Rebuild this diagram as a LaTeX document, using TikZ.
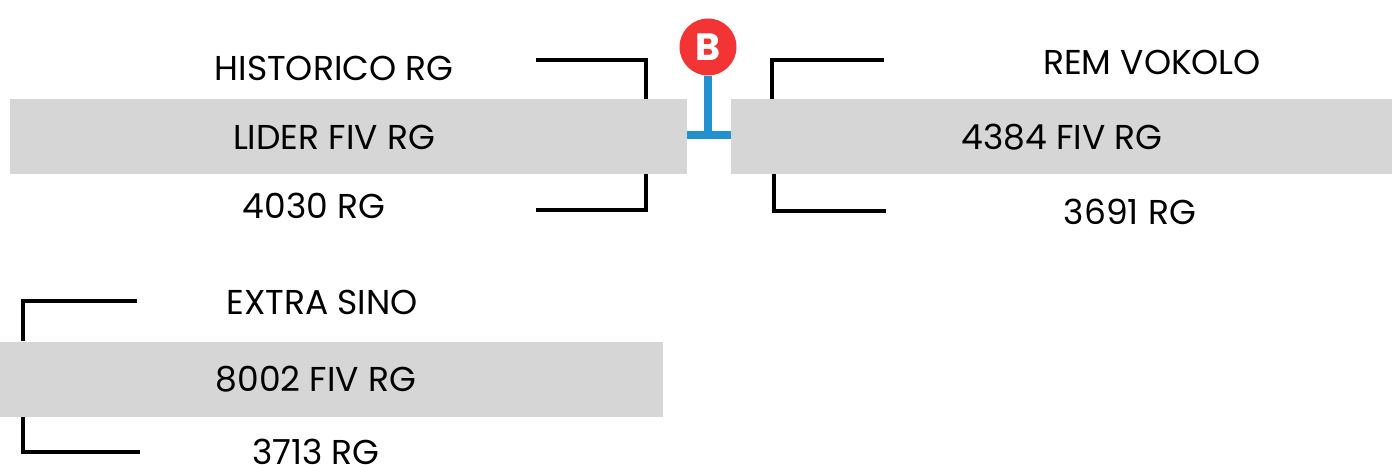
\documentclass[tikz,border=0pt]{standalone}
\usepackage{fontspec}
\setmainfont{Poppins}
\definecolor{barfill}{HTML}{D6D6D6}
\definecolor{pinblue}{HTML}{2391CF}
\definecolor{pinred}{HTML}{F23434}
\begin{document}
\begin{tikzpicture}[x=1pt, y=-1pt,
    bar/.style={fill=barfill, inner sep=0pt, minimum height=75pt},
    lbl/.style={inner sep=0pt, font=\fontsize{34.5}{40}\selectfont},
    brk/.style={line width=4pt}]
    \useasboundingbox (0,0) rectangle (1392,465);
    % grey bars
    \node[bar, minimum width=677pt] (liderbar) at (348.5,136.5) {};
    \node[bar, minimum width=661pt] (vokolobar) at (1061.5,136.5) {};
    \node[bar, minimum width=663pt] (sinobar) at (331.5,379) {};
    % texts
    \node[lbl] (historico) at (334,68) {HISTORICO RG};
    \node[lbl] (lider) at (334,137) {LIDER FIV RG};
    \node[lbl] (lidernum) at (314,206) {4030 RG};
    \node[lbl] (rem) at (1152,62) {REM VOKOLO};
    \node[lbl] (vokolo) at (1062,137) {4384 FIV RG};
    \node[lbl] (vokolonum) at (1130,212) {3691 RG};
    \node[lbl] (extra) at (322,302) {EXTRA SINO};
    \node[lbl] (sino) at (316,379) {8002 FIV RG};
    \node[lbl] (sinonum) at (316,452) {3713 RG};
    % brackets
    \draw[brk] (536,60) -| (liderbar.north east -| 646,0);
    \draw[brk] (536,210) -| (liderbar.south east -| 646,0);
    \draw[brk] (884,60) -| (vokolobar.north west -| 772,0);
    \draw[brk] (886,211) -| (vokolobar.south west -| 774,0);
    \draw[brk] (137,301) -| (sinobar.north west -| 23,0);
    \draw[brk] (140,452) -| (sinobar.south west -| 23,0);
    % pin B
    \node[circle, fill=pinred, minimum size=57pt, inner sep=0pt, text=white,
          font=\fontsize{38}{40}\selectfont\bfseries] (pinb) at (708,47) {B};
    \coordinate (pinfoot) at (708,135);
    \draw[pinblue, line width=8pt] (liderbar.east |- pinfoot) -- (vokolobar.west |- pinfoot);
    \draw[pinblue, line width=8pt] (pinb.south) -- (pinfoot);
\end{tikzpicture}
\end{document}
